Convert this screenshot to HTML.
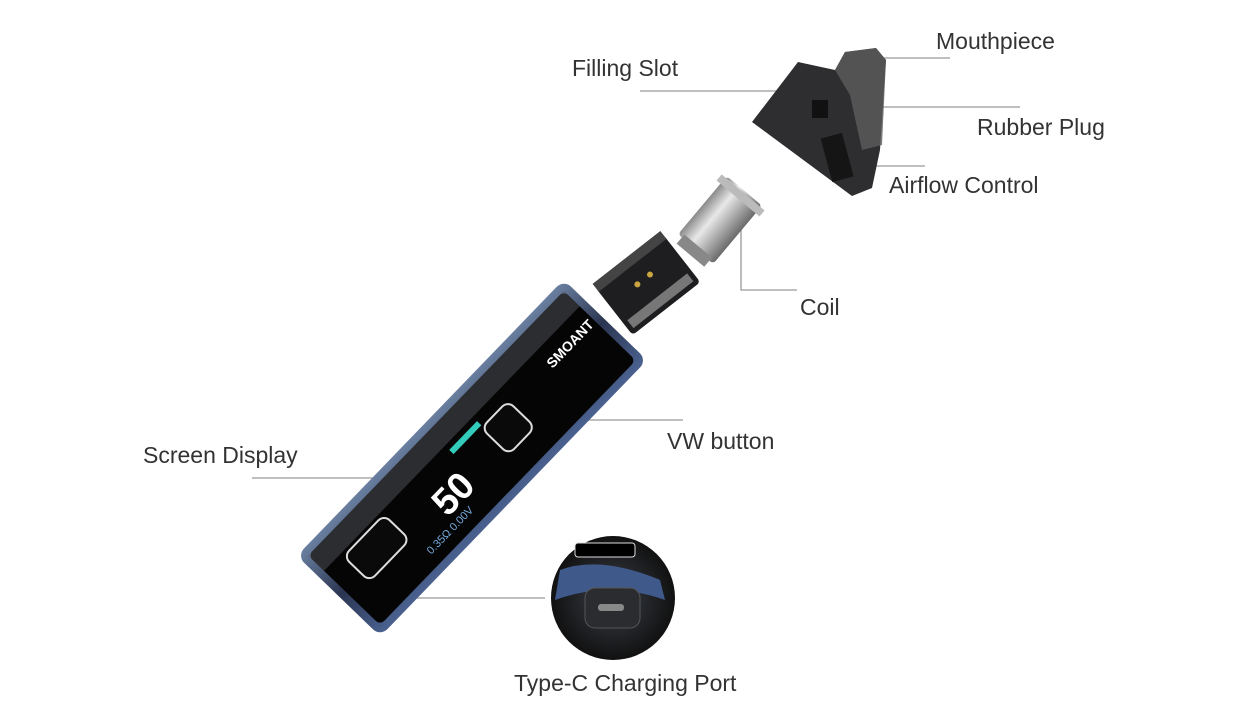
<!DOCTYPE html>
<html><head><meta charset="utf-8"><style>
html,body{margin:0;padding:0;background:#fff;width:1248px;height:727px;overflow:hidden}
text{font-family:"Liberation Sans",sans-serif;font-size:23px;fill:#333}
</style></head><body>
<svg width="1248" height="727" viewBox="0 0 1248 727" xmlns="http://www.w3.org/2000/svg">
<defs>
<linearGradient id="silver" x1="0" y1="0" x2="1" y2="0">
<stop offset="0" stop-color="#8a8a8a"/><stop offset="0.35" stop-color="#e8e8e8"/><stop offset="0.6" stop-color="#b8b8b8"/><stop offset="1" stop-color="#6a6a6a"/></linearGradient>
<linearGradient id="body" x1="0" y1="0" x2="0" y2="1">
<stop offset="0" stop-color="#6a7fa0"/><stop offset="0.5" stop-color="#2a3550"/><stop offset="1" stop-color="#4a6190"/></linearGradient>
<radialGradient id="circ" cx="0.5" cy="0.5" r="0.5"><stop offset="0" stop-color="#3a3f48"/><stop offset="1" stop-color="#111"/></radialGradient>
</defs>
<g stroke="#999" stroke-width="1.3" fill="none">
<line x1="880" y1="58" x2="950" y2="58"/>
<line x1="640" y1="91" x2="805" y2="91"/>
<line x1="830" y1="107" x2="1020" y2="107"/>
<line x1="845" y1="166" x2="925" y2="166"/>
<polyline points="741,228 741,290 797,290"/>
<line x1="520" y1="420" x2="683" y2="420"/>
<line x1="252" y1="478" x2="385" y2="478"/>
<line x1="355" y1="598" x2="545" y2="598"/>
</g>
<path d="M752,122 L798,62 L835,70 L845,52 L876,48 L886,60 L880,150 L872,188 L852,196 Z" fill="#2e2e30"/>
<path d="M835,70 L845,52 L876,48 L886,60 L882,145 L862,150 L850,95 Z" fill="#5c5c5e" opacity="0.8"/>
<rect x="812" y="100" width="16" height="18" fill="#111"/>
<rect x="826" y="135" width="22" height="45" fill="#151515" transform="rotate(-15 837 157)"/>
<g transform="rotate(40 720 220)">
<rect x="697" y="182" width="46" height="76" rx="4" fill="url(#silver)"/>
<rect x="692" y="184" width="56" height="8" fill="#bbb"/>
<rect x="702" y="254" width="36" height="12" fill="#888"/>
</g>
<g transform="rotate(-38 648 285)">
<rect x="605" y="255" width="86" height="60" rx="4" fill="#1e1e20"/>
<rect x="605" y="250" width="86" height="10" fill="#444"/>
<rect x="610" y="300" width="76" height="10" fill="#777"/>
<circle cx="640" cy="278" r="3" fill="#c9a640"/><circle cx="656" cy="278" r="3" fill="#c9a640"/>
</g>
<g transform="translate(472,458) rotate(-46)">
<rect x="-192" y="-58" width="384" height="116" rx="10" fill="url(#body)"/>
<rect x="-184" y="-50" width="368" height="100" rx="6" fill="#050505"/>
<rect x="-184" y="-50" width="368" height="22" fill="#5a5f66" opacity="0.45"/>
<rect x="-160" y="-24" width="58" height="36" rx="8" fill="#0a0a0a" stroke="#ddd" stroke-width="2"/>
<rect x="28" y="-14" width="38" height="38" rx="8" fill="#0a0a0a" stroke="#ddd" stroke-width="2"/>
<text x="-60" y="24" style="font-size:38px;fill:#fff;font-weight:bold">50</text>
<text x="-98" y="38" style="font-size:11px;fill:#7ad">0.35Ω 0.00V</text>
<rect x="-10" y="-22" width="40" height="6" fill="#3cb"/>
<text x="120" y="-4" style="font-size:14px;fill:#fff;font-weight:bold">SMOANT</text>
</g>
<circle cx="613" cy="598" r="62" fill="url(#circ)"/>
<path d="M560,570 Q600,555 660,580 L665,600 Q610,580 555,600 Z" fill="#3f5a8a"/>
<rect x="585" y="588" width="55" height="40" rx="10" fill="#2a2c30" stroke="#555"/>
<rect x="598" y="604" width="26" height="7" rx="3" fill="#888"/>
<rect x="575" y="543" width="60" height="14" rx="3" fill="#000" stroke="#ddd"/>
<text x="936" y="49">Mouthpiece</text>
<text x="572" y="76">Filling Slot</text>
<text x="977" y="135">Rubber Plug</text>
<text x="889" y="193">Airflow Control</text>
<text x="800" y="315">Coil</text>
<text x="667" y="449">VW button</text>
<text x="143" y="463">Screen Display</text>
<text x="514" y="691">Type-C Charging Port</text>
</svg>
</body></html>
